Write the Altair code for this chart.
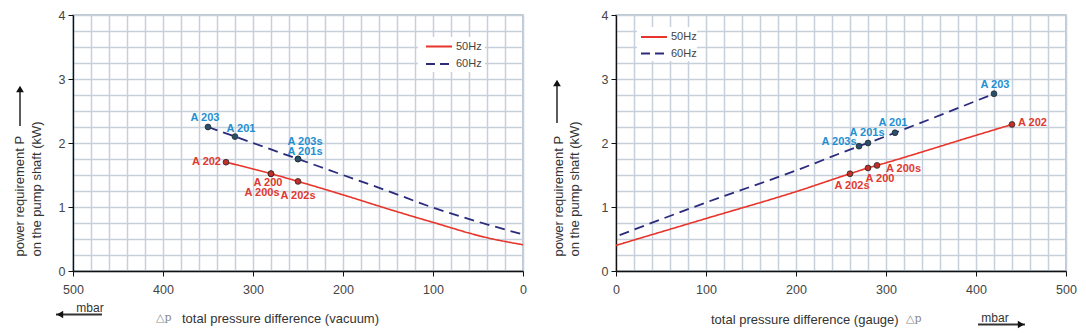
import altair as alt
import pandas as pd

# ---------------- data ----------------
series_names = ["50Hz", "60Hz"]

# left panel: vacuum
vac_50_x = [330, 280, 250, 200, 150, 100, 40, 0]
vac_50_y = [1.70, 1.52, 1.40, 1.19, 0.97, 0.76, 0.52, 0.41]
vac_60_x = [350, 320, 250, 200, 150, 100, 50, 0]
vac_60_y = [2.25, 2.10, 1.75, 1.50, 1.25, 0.99, 0.77, 0.57]
vac_pt_names = ["A 203", "A 201", "A 203s", "A 201s", "A 202", "A 200", "A 200s", "A 202s"]
vac_pt_x = [350, 320, 250, 250, 330, 280, 280, 250]
vac_pt_y = [2.25, 2.10, 1.75, 1.75, 1.70, 1.52, 1.52, 1.40]
vac_pt_series = ["60Hz", "60Hz", "60Hz", "60Hz", "50Hz", "50Hz", "50Hz", "50Hz"]

# right panel: gauge
gau_50_x = [0, 100, 200, 260, 280, 290, 400, 440]
gau_50_y = [0.40, 0.82, 1.24, 1.52, 1.61, 1.65, 2.12, 2.29]
gau_60_x = [4, 100, 200, 270, 280, 310, 420]
gau_60_y = [0.56, 1.07, 1.57, 1.95, 2.00, 2.16, 2.77]
gau_pt_names = ["A 203", "A 201", "A 201s", "A 203s", "A 202", "A 200s", "A 200", "A 202s"]
gau_pt_x = [420, 310, 280, 270, 440, 290, 280, 260]
gau_pt_y = [2.77, 2.16, 2.00, 1.95, 2.29, 1.65, 1.61, 1.52]
gau_pt_series = ["60Hz", "60Hz", "60Hz", "60Hz", "50Hz", "50Hz", "50Hz", "50Hz"]

x_grid_step = 20
y_grid_step = 0.25

y_title_lines = ["power requirement P", "on the pump shaft (kW)"]
x_title_vac = "total pressure difference (vacuum)"
x_title_gau = "total pressure difference (gauge)"
delta_p = "\u25b3p"
unit = "mbar"

# ---------------- styles ----------------
FONT = "Liberation Sans"
LINE_COL = {"50Hz": "#e8352b", "60Hz": "#2b2a7c"}
LABEL_COL = {"50Hz": "#e03a30", "60Hz": "#1f8fd2"}
DOT_COL = {"50Hz": "#c0302a", "60Hz": "#27506e"}
DASH = {"50Hz": [1, 0], "60Hz": [10, 6]}
W, H = 450, 256

x_grid_vals = list(range(0, 501, x_grid_step))
y_grid_vals = [i * y_grid_step for i in range(int(4 / y_grid_step) + 1)]

# label placement (dx, dy, align)
OFFS = {
    "vac": {
        "A 203": (-3, -9, "center"), "A 201": (6, -8, "center"),
        "A 203s": (7, -17, "center"), "A 201s": (7, -7, "center"),
        "A 202": (-5, 0, "right"), "A 200": (-3, 9, "center"),
        "A 200s": (-9, 19, "center"), "A 202s": (0, 15, "center"),
    },
    "gau": {
        "A 203": (1, -9, "center"), "A 202": (6, -1, "left"),
        "A 201": (-2, -10, "center"), "A 201s": (-1, -10, "center"),
        "A 203s": (-20, -4, "center"), "A 202s": (2, 12, "center"),
        "A 200": (12, 11.5, "center"), "A 200s": (9, 3.5, "left"),
    },
}


def make_panel(key, c50x, c50y, c60x, c60y, pn, px, py, ps, reverse, xtitle, geo):
    xs = alt.Scale(domain=[0, 500], reverse=reverse, nice=False, zero=False)
    ys = alt.Scale(domain=[0, 4], nice=False)
    xaxis = alt.Axis(
        values=x_grid_vals, title=None, grid=True,
        labelExpr="datum.value % 100 === 0 ? format(datum.value, 'd') : ''",
        tickOpacity=alt.condition("datum.value % 100 === 0", alt.value(1), alt.value(0)),
        labelOverlap=False, labelFlush=False, labelPadding=7, tickSize=5,
    )
    yaxis = alt.Axis(
        values=y_grid_vals, title=None, grid=True,
        labelExpr="datum.value % 1 === 0 ? format(datum.value, 'd') : ''",
        tickOpacity=alt.condition("datum.value % 1 === 0", alt.value(1), alt.value(0)),
        labelOverlap=False, labelFlush=False, labelPadding=3, tickSize=5,
    )
    X = alt.X("p:Q", scale=xs, axis=xaxis)
    Y = alt.Y("P:Q", scale=ys, axis=yaxis)
    layers = []
    for s, cx, cy in (("50Hz", c50x, c50y), ("60Hz", c60x, c60y)):
        df = pd.DataFrame({"p": cx, "P": cy})
        layers.append(
            alt.Chart(df).mark_line(
                color=LINE_COL[s], strokeWidth=1.6 if s == "50Hz" else 1.8,
                strokeDash=DASH[s], interpolate="monotone", clip=True,
            ).encode(x=X, y=Y)
        )
    pts = pd.DataFrame({"name": pn, "p": px, "P": py, "s": ps})
    for s in series_names:
        layers.append(
            alt.Chart(pts).transform_filter(alt.datum.s == s).mark_circle(
                size=34, color=DOT_COL[s], stroke="#2a2a2a", strokeWidth=0.8, opacity=1,
            ).encode(x=X, y=Y)
        )
    for nm, s in zip(pn, ps):
        dx, dy, al = OFFS[key][nm]
        layers.append(
            alt.Chart(pts).transform_filter(alt.datum.name == nm).mark_text(
                dx=dx, dy=dy, align=al, baseline="middle", font=FONT,
                fontSize=11, fontWeight="bold", color=LABEL_COL[s],
            ).encode(x=X, y=Y, text="name:N")
        )

    # legend (inside plot)
    lg = geo["legend"]
    layers.append(
        alt.Chart().mark_rect(color="white").encode(
            x=alt.value(lg["box"][0]), x2=alt.value(lg["box"][1]),
            y=alt.value(lg["box"][2]), y2=alt.value(lg["box"][3]))
    )
    for i, s in enumerate(series_names):
        yy = lg["rows"][i]
        layers.append(
            alt.Chart().mark_rule(color=LINE_COL[s], strokeWidth=2, strokeDash=[1, 0] if s == "50Hz" else [9, 5]).encode(
                x=alt.value(lg["sym"][0]), x2=alt.value(lg["sym"][1]), y=alt.value(yy))
        )
        layers.append(
            alt.Chart().mark_text(align="left", baseline="middle", font=FONT, fontSize=11, color="#444").encode(
                x=alt.value(lg["lab"]), y=alt.value(yy), text=alt.value(s))
        )

    # y title lines + arrow
    for i, t in enumerate(y_title_lines):
        layers.append(
            alt.Chart().mark_text(angle=270, align="left", baseline="middle", font=FONT, fontSize=13, color="#333").encode(
                x=alt.value(geo["ytx"][i]), y=alt.value(geo["yty"]), text=alt.value(t))
        )
    ax = geo["yarrow"]
    layers.append(
        alt.Chart().mark_rule(color="#333", strokeWidth=1.6).encode(
            x=alt.value(ax[0]), y=alt.value(ax[1]), y2=alt.value(ax[2] + 4))
    )
    layers.append(
        alt.Chart().mark_point(shape="triangle-up", filled=True, size=60, color="#111", opacity=1).encode(
            x=alt.value(ax[0]), y=alt.value(ax[2] + 4))
    )
    # x titles
    layers.append(
        alt.Chart().mark_text(align="left", baseline="middle", font=FONT, fontSize=13, color="#333").encode(
            x=alt.value(geo["xt"][0]), y=alt.value(geo["xt"][1]), text=alt.value(xtitle))
    )
    layers.append(
        alt.Chart().mark_text(align="left", baseline="middle", font="DejaVu Serif", fontSize=11, color="#888").encode(
            x=alt.value(geo["dp"][0]), y=alt.value(geo["dp"][1]), text=alt.value(delta_p))
    )
    layers.append(
        alt.Chart().mark_text(align="center", baseline="middle", font=FONT, fontSize=12, color="#333").encode(
            x=alt.value(geo["mbar"][0]), y=alt.value(geo["mbar"][1]), text=alt.value(unit))
    )
    ua = geo["uarrow"]
    layers.append(
        alt.Chart().mark_rule(color="#333", strokeWidth=1.8).encode(
            x=alt.value(ua[0]), x2=alt.value(ua[1]), y=alt.value(ua[2]))
    )
    tip = ua[0] + 4 if ua[3] == "left" else ua[1] - 4
    layers.append(
        alt.Chart().mark_point(shape="triangle-" + ua[3], filled=True, size=55, color="#111", opacity=1).encode(
            x=alt.value(tip), y=alt.value(ua[2]))
    )
    return alt.layer(*layers).properties(width=W, height=H)


geo_vac = {
    "legend": {"box": [345, 412, 22, 57], "sym": [353, 379], "lab": 383, "rows": [31.5, 49]},
    "ytx": [-52.6, -36], "yty": 241.5, "yarrow": [-53, 111, 70],
    "xt": [109, 303.5], "dp": [83, 302.5], "mbar": [17, 292.5], "uarrow": [-17, 29, 299.5, "left"],
}
geo_gau = {
    "legend": {"box": [21, 81, 12, 46], "sym": [25, 51], "lab": 55, "rows": [22, 38.5]},
    "ytx": [-57, -41], "yty": 241.5, "yarrow": [-59, 108, 64],
    "xt": [95, 304.5], "dp": [290, 303.5], "mbar": [379, 302.5], "uarrow": [362, 409, 309.5, "right"],
}

left = make_panel("vac", vac_50_x, vac_50_y, vac_60_x, vac_60_y,
                  vac_pt_names, vac_pt_x, vac_pt_y, vac_pt_series, True, x_title_vac, geo_vac)
right = make_panel("gau", gau_50_x, gau_50_y, gau_60_x, gau_60_y,
                   gau_pt_names, gau_pt_x, gau_pt_y, gau_pt_series, False, x_title_gau, geo_gau)

chart = alt.hconcat(left, right, spacing=24).properties(
    padding={"left": 13, "top": 8, "right": 5, "bottom": 5},
    background="white",
).configure_view(
    stroke="#a8b6c4", strokeWidth=1.5,
).configure_axis(
    gridColor="#c5d0da", gridWidth=1.5, domainColor="#111", domainWidth=1.3,
    tickColor="#111", labelFont=FONT, labelFontSize=12.5, labelColor="#444",
)

chart.save("out.html", embed_options={"renderer": "svg", "actions": False})
